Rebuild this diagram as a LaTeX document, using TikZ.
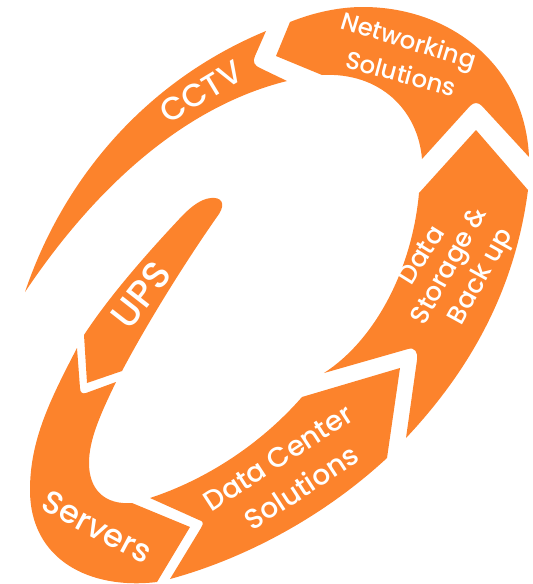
\documentclass[tikz,border=0pt]{standalone}
\usepackage{fontspec}
\setmainfont{Poppins Medium}
\definecolor{segorange}{HTML}{FC832C}
\tikzset{
  seg/.style={fill=segorange,draw=none},
  lbl/.style={text=white,inner sep=0pt,anchor=center},
  fs/.style={font=\fontsize{#1}{#1}\selectfont}
}
\begin{document}
\begin{tikzpicture}[x=1pt,y=-1pt]
\useasboundingbox (0,0) rectangle (533,584);
% CCTV
\fill[seg] (25,292) .. controls (62,182) and (143,82) .. (266,31)
  -- (255,56) .. controls (252,62) and (255,66) .. (260,68) -- (287,81)
  .. controls (190,105) and (100,180) .. (25,292) -- cycle;
% Networking
\fill[seg] (290,22) .. controls (315,12) and (340,7) .. (363,7)
  .. controls (450,7) and (525,65) .. (529,157)
  -- (482,106) .. controls (478,102) and (474,102) .. (470,106) -- (422,159)
  .. controls (418,110) and (380,72) .. (322,75)
  -- (276,56) -- cycle;
% Data storage
\fill[seg] (419,193) -- (476,130) -- (528,190)
  .. controls (515,290) and (470,370) .. (406,438)
  -- (417,360) .. controls (418,352) and (415,347) .. (408,349) -- (324,373)
  .. controls (375,340) and (412,270) .. (419,193) -- cycle;
% Data center
\fill[seg] (400,368) -- (387,458)
  .. controls (320,520) and (240,560) .. (170,579)
  -- (201,528) .. controls (204,523) and (203,521) .. (199,520) -- (150,498)
  .. controls (205,480) and (260,445) .. (302,397) -- cycle;
% Servers
\fill[seg] (132,503) -- (190,527) -- (157,582)
  .. controls (90,590) and (30,560) .. (30,490)
  .. controls (30,440) and (50,400) .. (77,348)
  -- (80,388) .. controls (80,393) and (83,394) .. (86,393) -- (116,382)
  .. controls (100,415) and (89,440) .. (89,463)
  .. controls (89,490) and (105,505) .. (132,503) -- cycle;
% UPS
\fill[seg] (84,335) -- (87,383) -- (122,371)
  .. controls (150,318) and (190,255) .. (219,214)
  .. controls (226,203) and (221,197) .. (211,198)
  .. controls (201,199) and (192,206) .. (183,215)
  .. controls (150,250) and (110,295) .. (84,335) -- cycle;
% Labels
\node[lbl,fs=24.5,rotate=-17] (net) at (408,43) {Networking};
\node[lbl,fs=24.5,rotate=-15] (sol) at (401,73) {Solutions};
\node[lbl,fs=32,rotate=31] (cctv) at (201,92) {CCTV};
\node[lbl,fs=38,rotate=52] (ups) at (141,295) {UPS};
\node[lbl,fs=32,rotate=-28] (srv) at (97,527) {Servers};
\node[lbl,fs=28,rotate=33] (dc) at (278,458) {Data Center};
\node[lbl,fs=28,rotate=33] (dcs) at (301,487) {Solutions};
\node[lbl,fs=26,rotate=58] (d1) at (421,255) {Data};
\node[lbl,fs=26,rotate=61] (d2) at (451,267) {Storage \&};
\node[lbl,fs=26,rotate=61] (d3) at (482,277) {Back up};
\end{tikzpicture}
\end{document}
